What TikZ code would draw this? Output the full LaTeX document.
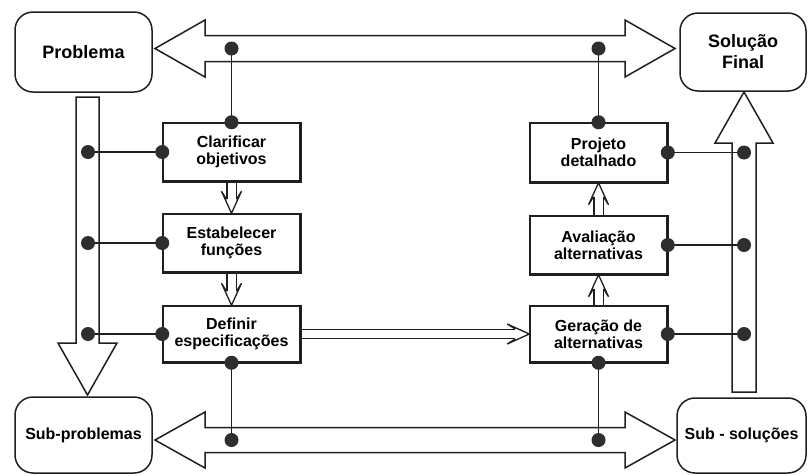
\documentclass[tikz,border=0pt]{standalone}
\usepackage{fontspec}
\setmainfont{Liberation Sans}
\usetikzlibrary{calc}
\begin{document}
\begin{tikzpicture}[x=1pt,y=-1pt,
  ink/.style={draw=black!88, line width=1.5pt},
  stage/.style={ink, fill=white, rectangle, minimum width=137pt, minimum height=58pt,
    align=center, inner sep=0pt, font=\fontsize{16}{17}\selectfont\bfseries},
  state/.style={ink, fill=white, rounded corners=18pt, align=center, inner sep=0pt},
  bigarrow/.style={ink, fill=white, line join=miter},
  link/.style={ink},
  dot/.style={circle, fill=black!82, inner sep=0pt, minimum size=14pt},
  flow/.style={ink, line width=1.3pt, double, double distance=8pt},
  hollowhead/.pic={
    \fill[white] (-14,-5) -- (-22,-10) -- (0,0) -- (-22,10) -- (-14,5) -- cycle;
    \draw[ink, line width=1.3pt, line join=miter] (-14,-5) -- (-22,-10) -- (0,0) -- (-22,10) -- (-14,5);
  }
]
\useasboundingbox (0,0) rectangle (808,475);

% broad process arrows
\draw[bigarrow] (155,48.5) -- (205,20) -- (205,35.5) -- (625,35.5) -- (625,20) -- (675,48.5)
  -- (625,77) -- (625,61.5) -- (205,61.5) -- (205,77) -- cycle;
\draw[bigarrow] (155,440) -- (205,412) -- (205,427.5) -- (625,427.5) -- (625,412) -- (675,440)
  -- (625,468) -- (625,452.5) -- (205,452.5) -- (205,468) -- cycle;
\draw[bigarrow] (76,97) -- (99,97) -- (99,343) -- (117,343) -- (87.5,395) -- (58,343) -- (76,343) -- cycle;
\draw[bigarrow] (732,392) -- (756,392) -- (756,143) -- (773,143) -- (744,92) -- (715,143) -- (732,143) -- cycle;

% axes of the broad arrows
\coordinate (topaxis) at (0,48.5);
\coordinate (botaxis) at (0,440);
\coordinate (leftaxis) at (88,0);
\coordinate (rightaxis) at (744,0);

% states
\node[state, minimum width=137pt, minimum height=80pt, font=\fontsize{18}{21}\selectfont\bfseries]
  (prob) at (83.5,52) {Problema};
\node[state, minimum width=126pt, minimum height=78pt, font=\fontsize{18}{21}\selectfont\bfseries]
  (sol) at (743,52) {Solução\\Final};
\node[state, minimum width=137pt, minimum height=76pt, font=\fontsize{16}{18}\selectfont\bfseries]
  (subp) at (83.5,435) {Sub-problemas};
\node[state, minimum width=129pt, minimum height=75pt, font=\fontsize{16}{18}\selectfont\bfseries]
  (subs) at (741.5,435.5) {Sub - soluções};

% design stages
\node[stage] (clar) at (231.5,152) {Clarificar\\objetivos};
\node[stage] (estab) at (231.5,243) {Estabelecer\\funções};
\node[stage, minimum height=56pt] (defin) at (231.5,334) {Definir\\especificações};
\node[stage, minimum height=59pt] (proj) at (598.5,152.5) {Projeto\\detalhado};
\node[stage] (aval) at (598.5,245) {Avaliação\\alternativas};
\node[stage, minimum height=56pt] (gera) at (598.5,334) {Geração de\\alternativas};

% hollow flow arrows between stages
\draw[flow] (clar.south) -- ($(estab.north)+(0,-14)$);
\pic[rotate=-90] at (estab.north) {hollowhead};
\draw[flow] (estab.south) -- ($(defin.north)+(0,-14)$);
\pic[rotate=-90] at (defin.north) {hollowhead};
\draw[flow] (gera.north) -- ($(aval.south)+(0,14)$);
\pic[rotate=90] at (aval.south) {hollowhead};
\draw[flow] (aval.north) -- ($(proj.south)+(0,14)$);
\pic[rotate=90] at (proj.south) {hollowhead};
\draw[flow] (defin.east) -- ($(gera.west)+(-14,0)$);
\pic at (gera.west) {hollowhead};

% redraw stage borders over the flow ends
\foreach \n in {clar,estab,defin,proj,aval,gera}
  \draw[ink] (\n.south west) rectangle (\n.north east);

% links between stages and the broad arrows
\coordinate (tl) at (clar.north |- topaxis);
\coordinate (tr) at (proj.north |- topaxis);
\coordinate (bl) at (defin.south |- botaxis);
\coordinate (br) at (gera.south |- botaxis);
\coordinate (l1) at (clar.west -| leftaxis);
\coordinate (l2) at (estab.west -| leftaxis);
\coordinate (l3) at (defin.west -| leftaxis);
\coordinate (r1) at (proj.east -| rightaxis);
\coordinate (r2) at (aval.east -| rightaxis);
\coordinate (r3) at (gera.east -| rightaxis);

\draw[link] (tl) -- (clar.north);
\draw[link] (tr) -- (proj.north);
\draw[link] (defin.south) -- (bl);
\draw[link] (gera.south) -- (br);
\draw[link] (l1) -- (clar.west);
\draw[link] (l2) -- (estab.west);
\draw[link] (l3) -- (defin.west);
\draw[link] (proj.east) -- (r1);
\draw[link] (aval.east) -- (r2);
\draw[link] (gera.east) -- (r3);

\foreach \p in {tl,tr,bl,br,l1,l2,l3,r1,r2,r3,
  clar.north,clar.west,estab.west,defin.west,defin.south,
  proj.north,proj.east,aval.east,gera.east,gera.south}
  \node[dot] at (\p) {};
\end{tikzpicture}
\end{document}
